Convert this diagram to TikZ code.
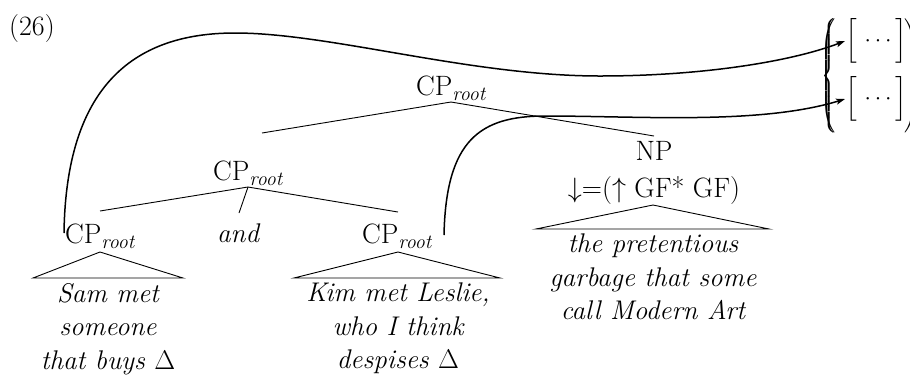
\RequirePackage{fix-cm}
\documentclass[tikz,border=0pt]{standalone}
\usepackage{exscale}
\usepackage{fontspec}
\usetikzlibrary{arrows.meta}
% italic subscript on category labels
\newcommand\rootsub{\raisebox{-5pt}{\fontsize{20}{24}\selectfont\itshape root}}
\begin{document}
\begin{tikzpicture}[x=1pt,y=-1pt,
  every node/.style={inner sep=0pt, font=\fontsize{28}{34}\selectfont},
  branch/.style={line width=0.9pt},
  link/.style={line width=1.5pt, -{Stealth[length=9pt,width=6pt,inset=2pt]}},
  leaf/.style={align=center, anchor=north, font=\fontsize{27}{33.5}\selectfont\itshape},
  fsbox/.style={anchor=west, font=\fontsize{23}{28}\selectfont},
  setdelim/.style={font=\fontsize{17}{20}\selectfont}]
\useasboundingbox (0,0) rectangle (910,376);

% example number
\node[anchor=base west] (num) at (9,35) {(26)};

% category labels
\node[anchor=base west] (top) at (416,95) {CP\rootsub};
\node[anchor=base west] (mid) at (213,180) {CP\rootsub};
\node[anchor=base west] (lcp) at (65,243) {CP\rootsub};
\node[anchor=base west] (conj) at (217,242) {\fontsize{27}{33}\selectfont\itshape and};
\node[anchor=base west] (rcp) at (362,243) {CP\rootsub};
\node[anchor=base] (np) at (654,160) {NP};
\node[anchor=base] (eq) at (654,197) {$\downarrow$=($\uparrow$ GF* GF)};

% branch points
\coordinate (topA) at (451,102);
\coordinate (topL) at (262,133);
\coordinate (topR) at (654,136);
\coordinate (midA) at (248,187);
\coordinate (midL) at (100,211);
\coordinate (midC) at (239,213);
\coordinate (midR) at (398,212);

\draw[branch] (topL) -- (topA) -- (topR);
\draw[branch] (midL) -- (midA) -- (midR);
\draw[branch] (midA) -- (midC);

% roof triangles
\coordinate (lA) at (100,252);
\coordinate (lB1) at (33,278);
\coordinate (lB2) at (183,278);
\coordinate (rA) at (398,252);
\coordinate (rB1) at (294,278);
\coordinate (rB2) at (500,278);
\coordinate (nA) at (653,205);
\coordinate (nB1) at (536,229);
\coordinate (nB2) at (769,229);
\draw[branch] (lB1) -- (lA) -- (lB2) -- cycle;
\draw[branch] (rB1) -- (rA) -- (rB2) -- cycle;
\draw[branch] (nB1) -- (nA) -- (nB2) -- cycle;

% terminal strings
\node[leaf] (ltxt) at (108,283) {Sam met\\someone\\that buys $\Delta$};
\node[leaf] (rtxt) at (398,283) {Kim met Leslie,\\who I think\\despises $\Delta$};
\node[leaf] (ntxt) at (653,234) {the pretentious\\garbage that some\\call Modern Art};

% f-structure set
\node[setdelim, anchor=center] (brace) at (830,76)
  {$\left(\!\!\!\!\!\left\{\rule[-54pt]{0pt}{116pt}\right.\right.$};
\node[setdelim, anchor=west] (rbrace) at (903,76)
  {$\left.\rule[-54pt]{0pt}{116pt}\right)$};
\node[fsbox] (fs1) at (845,41) {$\left[\rule[-12pt]{0pt}{36pt}\,\cdots\,\right]$};
\node[fsbox] (fs2) at (845,99) {$\left[\rule[-12pt]{0pt}{36pt}\,\cdots\,\right]$};

% functional links
\coordinate (s1) at (64,233);
\coordinate (s2) at (444,235);
\draw[link] (s1) .. controls (66,90) and (130,33) .. (235,33)
  .. controls (330,33) and (470,76) .. (600,76)
  .. controls (700,76) and (790,62) .. (fs1.west);
\draw[link] (s2) .. controls (446,140) and (480,116) .. (545,116)
  .. controls (640,116) and (760,125) .. (fs2.west);
\end{tikzpicture}
\end{document}
